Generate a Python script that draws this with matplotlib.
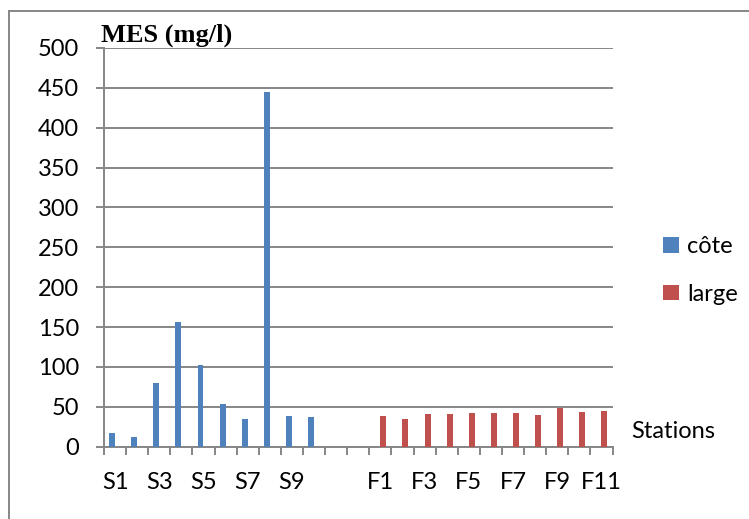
import matplotlib
matplotlib.use("Agg")
import matplotlib.pyplot as plt
from matplotlib.lines import Line2D
from matplotlib.patches import Patch

# Data
categories = ["S1", "S2", "S3", "S4", "S5", "S6", "S7", "S8", "S9", "S10", "", "",
              "F1", "F2", "F3", "F4", "F5", "F6", "F7", "F8", "F9", "F10", "F11"]
cote = [17, 12, 80, 156, 103, 53, 35, 445, 38, 37] + [None] * 13
large = [None] * 12 + [38, 35, 41, 41, 42, 42, 42, 40, 49, 44, 45]
yticks = [0, 50, 100, 150, 200, 250, 300, 350, 400, 450, 500]
series_names = ["côte", "large"]

blue = "#4F81BD"
red = "#C0504D"
grey = "#868686"
font = "Lato"
fs = 17

fig = plt.figure(figsize=(7.49, 5.19), dpi=100)
ax = fig.add_axes([104 / 749, 1 - 446.7 / 519, (612.5 - 104) / 749, (446.7 - 48) / 519])

w = 0.27
xs = list(range(len(categories)))
bx = [x - w / 2 for x, v in zip(xs, cote) if v is not None]
bv = [v for v in cote if v is not None]
rx = [x + w / 2 for x, v in zip(xs, large) if v is not None]
rv = [v for v in large if v is not None]
ax.bar(bx, bv, width=w, color=blue, zorder=3)
ax.bar(rx, rv, width=w, color=red, zorder=3)

ax.set_xlim(-0.5, len(categories) - 0.5)
ax.set_ylim(0, 500)
ax.set_yticks(yticks)
ax.set_yticklabels([str(t) for t in yticks], fontfamily=font, fontsize=fs)
ax.yaxis.grid(True, color=grey, linewidth=1.4, zorder=0)
ax.set_axisbelow(True)

ax.set_xticks(xs)
ax.set_xticklabels([c if i % 2 == 0 else "" for i, c in enumerate(categories)],
                   fontfamily=font, fontsize=fs)
ax.set_xticks([x - 0.5 for x in xs] + [len(categories) - 0.5], minor=True)
ax.tick_params(axis="x", which="major", length=0, pad=18)
ax.tick_params(axis="x", which="minor", length=5.8, width=1.4, color=grey)
ax.tick_params(axis="y", which="major", length=5.8, width=1.4, color=grey, pad=12)

for s in ["top", "right"]:
    ax.spines[s].set_visible(False)
for s in ["left", "bottom"]:
    ax.spines[s].set_color(grey)
    ax.spines[s].set_linewidth(1.4)

fig.text(101 / 749, 1 - 41.7 / 519, "MES (mg/l)", fontfamily="Liberation Serif",
         fontweight="bold", fontsize=19, va="baseline", ha="left")
fig.text(631 / 749, 1 - 431 / 519, "Stations", fontfamily=font, fontsize=fs,
         va="center", ha="left")

handles = [Patch(facecolor=blue), Patch(facecolor=red)]
leg = fig.legend(handles, series_names, loc="upper left",
                 bbox_to_anchor=(642 / 749, 1 - 215 / 519),
                 frameon=False, prop={"family": font, "size": fs},
                 handlelength=0.65, handleheight=0.65, handletextpad=0.35,
                 labelspacing=1.12)

# outer border (left and top visible)
fig.add_artist(Line2D([9 / 749, 9 / 749], [0, 1 - 11 / 519], color=grey, lw=1.4,
                      transform=fig.transFigure))
fig.add_artist(Line2D([9 / 749, 1], [1 - 11 / 519, 1 - 11 / 519], color=grey, lw=1.4,
                      transform=fig.transFigure))

fig.savefig("out.png", dpi=100)
